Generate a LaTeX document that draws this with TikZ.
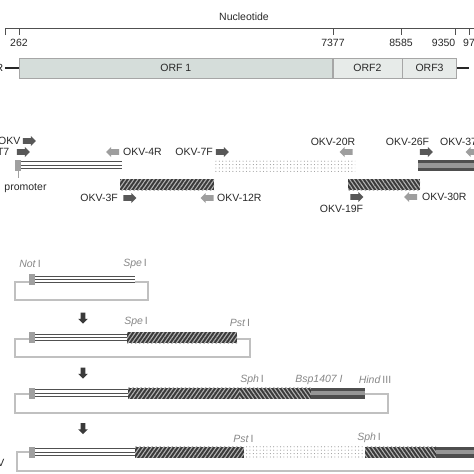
\documentclass[tikz,border=0pt]{standalone}
\usepackage{fontspec}
\setmainfont{Liberation Sans}
\usetikzlibrary{shapes.arrows, patterns, patterns.meta}
\definecolor{TX}{RGB}{40,40,40}
\definecolor{RL}{RGB}{80,80,80}
\definecolor{OA}{RGB}{213,221,218}
\definecolor{OB}{RGB}{231,235,233}
\definecolor{FW}{RGB}{88,88,88}
\definecolor{RV}{RGB}{158,158,158}
\definecolor{HD}{RGB}{58,58,58}
\definecolor{HL}{RGB}{178,178,178}
\definecolor{BD}{RGB}{78,78,78}
\definecolor{BM}{RGB}{150,150,150}
\definecolor{PR}{RGB}{160,160,160}
\definecolor{VC}{RGB}{192,192,192}
\definecolor{EN}{RGB}{135,135,135}

\begin{document}
\begin{tikzpicture}[x=1pt, y=-1pt,
  lbl/.style={font=\fontsize{10.5}{12}\selectfont, text=TX, inner sep=0pt},
  enz/.style={font=\fontsize{10.5}{12}\selectfont, text=EN, inner sep=0pt},
  orf/.style={draw=gray!70, fill=#1, line width=0.6pt, minimum height=20pt,
              anchor=west, inner sep=0pt, font=\fontsize{10.5}{12}\selectfont, text=TX},
  fwd/.style={single arrow, fill=FW, minimum height=13pt, inner xsep=0pt, inner ysep=2.6pt,
              single arrow head extend=2.2pt},
  rev/.style={fwd, fill=RV, shape border rotate=180},
  dnarrow/.style={single arrow, fill=HD, shape border rotate=270, minimum height=11pt,
                  inner sep=2.2pt, single arrow head extend=2.4pt},
  promsq/.style={fill=PR, minimum width=6pt, minimum height=11pt, inner sep=0pt},
  hatchA/.style={fill=HD, postaction={pattern={Lines[angle=55, distance=3.3pt, line width=1.1pt]}, pattern color=HL}},
  hatchB/.style={fill=HD, postaction={pattern={Lines[angle=-55, distance=3.3pt, line width=1.1pt]}, pattern color=HL}},
  dotbar/.style={pattern={Dots[distance=3.4pt, radius=0.55pt, xshift=1.7pt]}, pattern color=gray!85},
  vec/.style={draw=VC, line width=1.2pt},
  ins/.style={draw=RL, line width=0.9pt}
]
\useasboundingbox (0,0) rectangle (474,474);
\clip (0,0) rectangle (474,474);

% Genome ruler
\node[lbl] (nuc) at (244,17) {Nucleotide};
\draw[RL, line width=0.8pt] (5,35) -- (5,28) -- (474,28);
\foreach \x/\n in {19/262, 333/7377, 401/8585} {
  \draw[RL, line width=0.8pt] (\x,28) -- (\x,35);
  \node[lbl] (tick\n) at (\x,43) {\n};
}
\draw[RL, line width=0.8pt] (455,28) -- (455,35);
\draw[RL, line width=0.8pt] (469,28) -- (469,35);
\node[lbl, anchor=east] (tick9350) at (455.5,43) {9350};
\node[lbl, anchor=west] (tick97) at (463,43) {97};

% ORFs
\node[orf=OA, minimum width=313pt] (orf1) at (19,68) {ORF 1};
\node[orf=OB, minimum width=69pt]  (orf2) at (orf1.east) {ORF2};
\node[orf=OB, minimum width=54pt]  (orf3) at (orf2.east) {ORF3};
\node[lbl, anchor=east] (utr) at (3.5,68) {UTR};
\draw[TX, line width=2.5pt] (5,68) -- (orf1.west);
\draw[TX, line width=2.5pt] (orf3.east) -- (469,68);

% Primers and RT-PCR fragments
\node[lbl, anchor=east] (lOKV) at (20.5,141) {OKV};
\node[fwd] (aOKV) at (28,141) {};
\node[lbl, anchor=east] (lT7) at (9.5,152) {T7};
\node[fwd] (aT7) at (22,152) {};
\node[promsq] (prom) at (18,165.5) {};
\draw[PR, line width=0.8pt] (prom.south) -- ++(0,7);
\node[lbl] (lprom) at (25.5,188) {promoter};
\foreach \dy in {-3.5,0,3.5}
  \draw[ins] (21,165+\dy) -- (122,165+\dy);

\node[rev] (a4R) at (114,152) {};
\node[lbl, anchor=west] (l4R) at (123,152) {OKV-4R};
\node[lbl, anchor=east] (l7F) at (213,152) {OKV-7F};
\node[fwd] (a7F) at (221,152) {};
\fill[dotbar] (215,160) rectangle (355,171);

\fill[hatchA] (120,179) rectangle (214,190);
\node[lbl, anchor=east] (l3F) at (118,198) {OKV-3F};
\node[fwd] (a3F) at (128.5,198) {};
\node[rev] (a12R) at (208.5,198) {};
\node[lbl, anchor=west] (l12R) at (217,198) {OKV-12R};

\node[lbl] (l20R) at (333,142) {OKV-20R};
\node[rev] (a20R) at (347.5,152) {};
\node[lbl] (l26F) at (407.5,142) {OKV-26F};
\node[fwd] (a26F) at (425,152) {};
\node[lbl, anchor=west] (l37R) at (440,142) {OKV-37R};
\node[rev] (a37R) at (473.5,152) {};
\fill[BD] (418,160) rectangle (480,171);
\fill[BM] (418,163.3) rectangle (480,167.7);

\fill[hatchB] (348,179) rectangle (420,190);
\node[fwd] (a19F) at (355.5,197) {};
\node[lbl] (l19F) at (341.5,209) {OKV-19F};
\node[rev] (a30R) at (412,197) {};
\node[lbl, anchor=west] (l30R) at (422,197) {OKV-30R};

% Construct 1
\node[enz] (not1) at (30,264) {\textit{Not}\,I};
\node[enz] (spe1) at (135,264) {\textit{Spe}\,I};
\draw[vec] (29,282) -- (15,282) -- (15,300) -- (148,300) -- (148,282) -- (135,282);
\node[promsq] (sq1) at (32,279.5) {};
\foreach \dy in {-3.2,0,3.2}
  \draw[ins] (35,279.5+\dy) -- (135,279.5+\dy);
\node[dnarrow] (d1) at (83,317) {};

% Construct 2
\node[enz] (spe2) at (136,322) {\textit{Spe}\,I};
\node[enz] (pst2) at (240,323) {\textit{Pst}\,I};
\draw[vec] (29,339) -- (15,339) -- (15,357) -- (250,357) -- (250,339) -- (237,339);
\node[promsq] (sq2) at (32,337.5) {};
\foreach \dy in {-3.2,0,3.2}
  \draw[ins] (35,337.5+\dy) -- (127,337.5+\dy);
\fill[hatchA] (127,332) rectangle (237,343);
\node[dnarrow] (d2) at (83,372) {};

% Construct 3
\node[enz] (sph3) at (252,380) {\textit{Sph}\,I};
\node[enz] (bsp3) at (319,380) {\textit{Bsp1407 I}};
\node[enz] (hin3) at (375,380) {\textit{Hind}\,III};
\draw[vec] (29,394) -- (15,394) -- (15,413) -- (388,413) -- (388,394) -- (365,394);
\node[promsq] (sq3) at (32,393) {};
\foreach \dy in {-3.2,0,3.2}
  \draw[ins] (35,393+\dy) -- (128,393+\dy);
\fill[hatchA] (128,387.5) rectangle (240,398.5);
\fill[hatchB] (240,387.5) rectangle (311,398.5);
\fill[BD] (311,387.5) rectangle (365,398.5);
\fill[BM] (311,390.8) rectangle (365,395.2);
\node[dnarrow] (d3) at (83,427.5) {};

% Construct 4
\node[enz] (pst4) at (243.5,439) {\textit{Pst}\,I};
\node[enz] (sph4) at (369,438) {\textit{Sph}\,I};
\node[lbl, anchor=east] (lclone) at (4.5,463) {OKV};
\draw[vec] (29,452) -- (17,452) -- (17,471) -- (480,471);
\node[promsq] (sq4) at (32,452) {};
\foreach \dy in {-3.2,0,3.2}
  \draw[ins] (35,452+\dy) -- (135,452+\dy);
\fill[hatchA] (135,446.5) rectangle (244,457.5);
\fill[dotbar] (244,446.5) rectangle (365,457.5);
\fill[hatchB] (365,446.5) rectangle (436,457.5);
\fill[BD] (436,446.5) rectangle (480,457.5);
\fill[BM] (436,449.8) rectangle (480,454.2);
\end{tikzpicture}
\end{document}
